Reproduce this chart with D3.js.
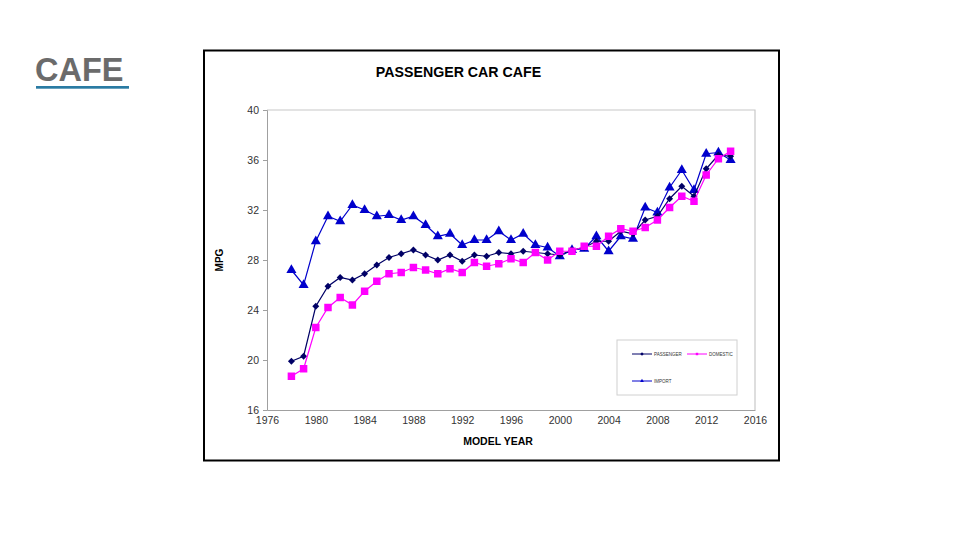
<!DOCTYPE html>
<html><head><meta charset="utf-8">
<script src="https://cdn.jsdelivr.net/npm/d3@7"></script>
<style>
body{margin:0;background:#fff;}
svg{display:block;font-family:"Liberation Sans",Arial,sans-serif;}
</style></head><body>
<svg id="c" width="960" height="540"></svg>
<script>
const years = d3.range(1978, 2015);
const passenger = [19.9,20.3,24.3,25.9,26.6,26.4,26.9,27.6,28.2,28.5,28.8,28.4,28.0,28.4,27.9,28.4,28.3,28.6,28.5,28.7,28.6,28.5,28.4,28.8,29.0,29.5,29.5,30.3,30.1,31.2,31.5,32.9,33.9,33.1,35.3,36.4,36.3];
const domestic = [18.7,19.3,22.6,24.2,25.0,24.4,25.5,26.3,26.9,27.0,27.4,27.2,26.9,27.3,27.0,27.8,27.5,27.7,28.1,27.8,28.6,28.0,28.7,28.7,29.1,29.1,29.9,30.5,30.3,30.6,31.2,32.2,33.1,32.7,34.8,36.1,36.7];
const imported = [27.2,26.0,29.5,31.5,31.1,32.4,32.0,31.5,31.6,31.2,31.5,30.8,29.9,30.1,29.2,29.6,29.6,30.3,29.6,30.1,29.2,29.0,28.3,28.8,28.9,29.9,28.7,29.9,29.7,32.2,31.8,33.8,35.2,33.6,36.5,36.6,36.0];
const xTicks = [1976,1980,1984,1988,1992,1996,2000,2004,2008,2012,2016];
const yTicks = [16,20,24,28,32,36,40];
const seriesNames = ["PASSENGER","DOMESTIC","IMPORT"];

const svg = d3.select("#c");

// slide title
svg.append("text").attr("x",35).attr("y",80.5).attr("font-size",32.5).attr("font-weight","bold")
  .attr("fill","#6b6b6b").text("CAFE");
svg.append("rect").attr("x",36).attr("y",86).attr("width",93).attr("height",2.7).attr("fill","#2a7ba3");

// chart frame
svg.append("rect").attr("x",204).attr("y",50.5).attr("width",575).attr("height",410)
  .attr("fill","#fff").attr("stroke","#000").attr("stroke-width",2);

const x = d3.scaleLinear().domain([1976,2016]).range([267,755]);
const y = d3.scaleLinear().domain([16,40]).range([410,110]);

// plot border (top/right)
svg.append("path").attr("d",`M${x(1976)},${y(40)}H${x(2016)}V${y(16)}`)
  .attr("fill","none").attr("stroke","#c8c8c8").attr("stroke-width",1.2);

const yAxis = svg.append("g").attr("transform",`translate(${x(1976)},0)`)
  .call(d3.axisLeft(y).tickValues(yTicks).tickSize(4).tickPadding(4).tickFormat(d3.format("d")));
const xAxis = svg.append("g").attr("transform",`translate(0,${y(16)})`)
  .call(d3.axisBottom(x).tickValues(xTicks).tickSize(0).tickPadding(7).tickFormat(d3.format("d")));
[yAxis,xAxis].forEach(g=>{
  g.selectAll("path,line").attr("stroke","#a0a0a0");
  g.selectAll("text").attr("font-size",10.5).attr("fill","#333").attr("font-family","'Liberation Sans',Arial,sans-serif");
});

svg.append("text").attr("x",458.5).attr("y",77).attr("text-anchor","middle").attr("font-size",14.2)
  .attr("font-weight","bold").text("PASSENGER CAR CAFE");
svg.append("text").attr("x",498).attr("y",445).attr("text-anchor","middle").attr("font-size",10.5)
  .attr("font-weight","bold").text("MODEL YEAR");
svg.append("text").attr("transform",`translate(223,${(y(16)+y(40))/2}) rotate(-90)`).attr("text-anchor","middle")
  .attr("font-size",10).attr("font-weight","bold").text("MPG");

const line = d3.line().x((d,i)=>x(years[i])).y(d=>y(d));
const series = [
  {name:seriesNames[0], vals:passenger, color:"#000066", mark:d3.symbolSquare, size:24, rot:45},
  {name:seriesNames[1], vals:domestic, color:"#ff00ff", mark:d3.symbolSquare, size:56, rot:0},
  {name:seriesNames[2], vals:imported, color:"#0000cc", mark:d3.symbolTriangle, size:44, rot:0}
];
[series[2],series[0],series[1]].forEach(s=>{
  svg.append("path").datum(s.vals).attr("d",line).attr("fill","none").attr("stroke",s.color).attr("stroke-width",1.2);
  svg.append("g").selectAll("path").data(s.vals).join("path")
    .attr("transform",(d,i)=>`translate(${x(years[i])},${y(d)}) rotate(${s.rot})`)
    .attr("d",d3.symbol().type(s.mark).size(s.size)).attr("fill",s.color);
});

// legend
svg.append("rect").attr("x",617).attr("y",340).attr("width",120).attr("height",55)
  .attr("fill","#fff").attr("stroke","#d0d0d0").attr("stroke-width",1);
const leg = [
  {s:series[0], lx:632, ly:354},
  {s:series[1], lx:687, ly:354},
  {s:series[2], lx:632, ly:381}
];
leg.forEach(l=>{
  svg.append("line").attr("x1",l.lx).attr("x2",l.lx+20).attr("y1",l.ly).attr("y2",l.ly).attr("stroke",l.s.color).attr("stroke-width",1);
  svg.append("path").attr("transform",`translate(${l.lx+10},${l.ly}) rotate(${l.s.rot})`).attr("d",d3.symbol().type(l.s.mark).size(6)).attr("fill",l.s.color);
  svg.append("text").attr("x",l.lx+22).attr("y",l.ly+1.5).attr("font-size",4.5).attr("fill","#333").text(l.s.name);
});
</script>
</body></html>
